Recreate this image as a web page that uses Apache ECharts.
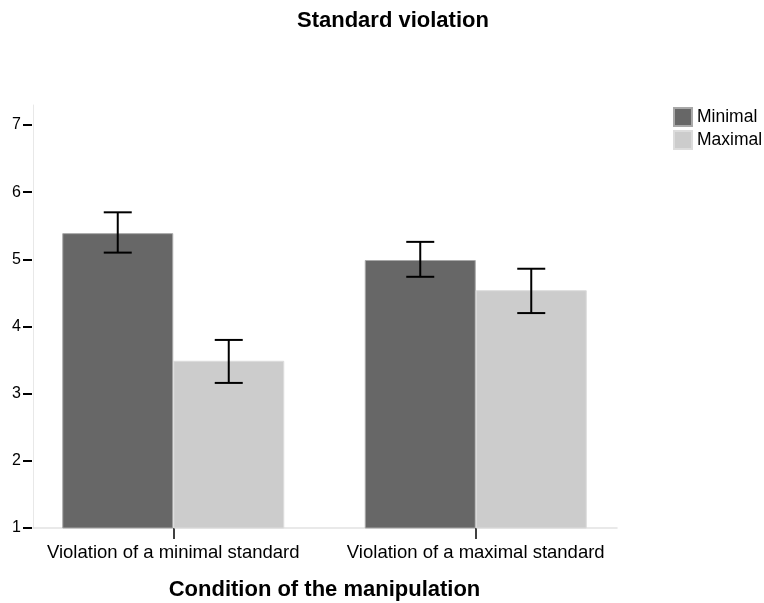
<!DOCTYPE html>
<html>
<head>
<meta charset="utf-8">
<script src="https://cdn.jsdelivr.net/npm/echarts@6/dist/echarts.min.js"></script>
<style>html,body{margin:0;padding:0;background:#fff}#c{width:764px;height:603px}</style>
</head>
<body>
<div id="c"></div>
<script>
var categories = ['Violation of a minimal standard', 'Violation of a maximal standard'];
var seriesNames = ['Minimal', 'Maximal'];
var minimalMeans = [5.39, 4.99];
var maximalMeans = [3.49, 4.54];
var minimalLow = [5.10, 4.74];
var minimalHigh = [5.70, 5.26];
var maximalLow = [3.16, 4.20];
var maximalHigh = [3.80, 4.86];
var yTicks = [1, 2, 3, 4, 5, 6, 7];

var FONT = "'Liberation Sans', Arial, sans-serif";
var BAR_W = 111;

function errData(low, high) {
  return categories.map(function (c, i) { return [i, low[i], high[i]]; });
}
function errSeries(name, low, high, side) {
  return {
    type: 'custom', name: name + ' CI', xAxisIndex: 1, yAxisIndex: 1, z: 10,
    silent: true, clip: false,
    data: errData(low, high),
    encode: { x: 0, y: [1, 2] },
    renderItem: function (params, api) {
      var top = api.coord([api.value(0), api.value(2)]);
      var bot = api.coord([api.value(0), api.value(1)]);
      var x = top[0] + side * BAR_W / 2;
      var cap = 14;
      var st = { stroke: '#000', lineWidth: 2 };
      return {
        type: 'group', children: [
          { type: 'line', shape: { x1: x, y1: top[1], x2: x, y2: bot[1] }, style: st },
          { type: 'line', shape: { x1: x - cap, y1: top[1], x2: x + cap, y2: top[1] }, style: st },
          { type: 'line', shape: { x1: x - cap, y1: bot[1], x2: x + cap, y2: bot[1] }, style: st }
        ]
      };
    }
  };
}

var chart = echarts.init(document.getElementById('c'), null, { renderer: 'canvas' });
chart.setOption({
  backgroundColor: '#fff',
  animation: false,
  textStyle: { fontFamily: FONT },
  title: {
    text: 'Standard violation', left: 297, top: 10, padding: 0,
    textStyle: { fontFamily: FONT, fontWeight: 'bold', fontSize: 22, color: '#000' }
  },
  legend: {
    data: seriesNames, orient: 'vertical', left: 673, top: 107, padding: 0,
    itemWidth: 18, itemHeight: 18, itemGap: 3,
    textStyle: { fontFamily: FONT, fontSize: 17.5, color: '#000', lineHeight: 18 },
    icon: 'rect'
  },
  grid: [
    { left: 33, right: 147, top: 105, bottom: 75, outerBoundsMode: 'none', containLabel: false },
    { left: 22, right: 137, top: 125, bottom: 75, outerBoundsMode: 'none', containLabel: false }
  ],
  xAxis: [
    {
      gridIndex: 0, type: 'category', data: categories,
      axisLine: { show: true, lineStyle: { color: '#e2e2e2', width: 1.5 } },
      axisTick: { show: false }, axisLabel: { show: false }, splitLine: { show: false }
    },
    {
      gridIndex: 1, type: 'category', data: categories,
      axisLine: { show: false },
      axisTick: { show: true, alignWithLabel: true, length: 11, lineStyle: { color: '#000', width: 1.5 } },
      axisLabel: { fontFamily: FONT, fontSize: 18.5, color: '#000', margin: 15, interval: 0, hideOverlap: false },
      name: 'Condition of the manipulation', nameLocation: 'middle', nameGap: 51,
      nameTextStyle: { fontFamily: FONT, fontWeight: 'bold', fontSize: 22, color: '#000' }
    }
  ],
  yAxis: [
    {
      gridIndex: 0, type: 'value', min: 1, max: 7.3,
      axisLine: { show: true, lineStyle: { color: '#e8e8e8', width: 1 } },
      axisTick: { show: false }, axisLabel: { show: false }, splitLine: { show: false }
    },
    {
      gridIndex: 1, type: 'value', min: yTicks[0], max: yTicks[yTicks.length - 1], interval: 1,
      offset: -10,
      axisLine: { show: false },
      axisTick: { show: true, length: 9, lineStyle: { color: '#000', width: 2 } },
      axisLabel: { fontFamily: FONT, fontSize: 16, color: '#000', margin: 11 },
      splitLine: { show: false }
    }
  ],
  series: [
    {
      type: 'bar', name: seriesNames[0], xAxisIndex: 1, yAxisIndex: 1,
      data: minimalMeans, barWidth: BAR_W, barGap: '0%',
      itemStyle: { color: '#676767', borderColor: '#a8a8a8', borderWidth: 1 }
    },
    {
      type: 'bar', name: seriesNames[1], xAxisIndex: 1, yAxisIndex: 1,
      data: maximalMeans, barWidth: BAR_W, barGap: '0%',
      itemStyle: { color: '#cccccc', borderColor: '#dcdcdc', borderWidth: 1 }
    },
    errSeries('Minimal', minimalLow, minimalHigh, -1),
    errSeries('Maximal', maximalLow, maximalHigh, 1)
  ]
});
</script>
</body>
</html>
